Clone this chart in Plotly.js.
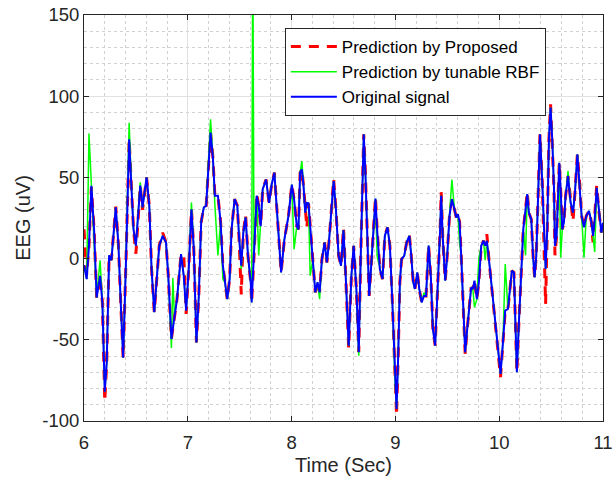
<!DOCTYPE html>
<html>
<head>
<meta charset="utf-8">
<script src="https://cdn.plot.ly/plotly-3.0.1.min.js"></script>
<style>html,body{margin:0;padding:0;background:#fff;}#chart{width:616px;height:480px;}</style>
</head>
<body>
<div id="chart"></div>
<script>
const timeSec = [6.000,6.026,6.048,6.071,6.097,6.122,6.155,6.177,6.200,6.219,6.242,6.264,6.306,6.332,6.355,6.377,6.403,6.420,6.435,6.458,6.477,6.500,6.522,6.542,6.564,6.580,6.603,6.629,6.651,6.677,6.703,6.725,6.758,6.790,6.812,6.842,6.856,6.871,6.896,6.935,6.961,6.984,7.009,7.035,7.058,7.083,7.106,7.129,7.154,7.177,7.193,7.219,7.241,7.261,7.290,7.316,7.338,7.357,7.380,7.403,7.422,7.451,7.477,7.493,7.515,7.535,7.557,7.580,7.606,7.615,7.626,7.638,7.664,7.683,7.702,7.721,7.754,7.783,7.808,7.834,7.863,7.899,7.931,7.970,8.002,8.024,8.050,8.066,8.082,8.099,8.115,8.131,8.147,8.163,8.179,8.205,8.228,8.250,8.270,8.292,8.318,8.340,8.357,8.379,8.405,8.427,8.453,8.476,8.500,8.521,8.550,8.576,8.598,8.624,8.647,8.666,8.682,8.695,8.711,8.727,8.747,8.769,8.792,8.808,8.824,8.850,8.876,8.898,8.924,8.947,8.972,8.995,9.011,9.027,9.043,9.059,9.085,9.108,9.134,9.150,9.172,9.188,9.211,9.230,9.253,9.275,9.295,9.308,9.320,9.342,9.361,9.383,9.409,9.431,9.441,9.457,9.480,9.499,9.521,9.544,9.569,9.586,9.602,9.618,9.634,9.650,9.672,9.692,9.714,9.730,9.746,9.762,9.785,9.804,9.827,9.849,9.865,9.881,9.901,9.923,9.949,9.971,9.994,10.013,10.036,10.058,10.084,10.106,10.122,10.142,10.158,10.170,10.190,10.213,10.232,10.254,10.270,10.286,10.309,10.328,10.341,10.357,10.373,10.393,10.415,10.431,10.447,10.463,10.479,10.495,10.511,10.528,10.537,10.553,10.569,10.579,10.592,10.608,10.624,10.640,10.663,10.688,10.711,10.730,10.753,10.775,10.794,10.817,10.839,10.865,10.888,10.904,10.920,10.939,10.962,10.984,11.000];

const originalSignal = [-4,-12.6,7.9,44.8,18,-24,-10.6,-27,-82,-64,2,-1,31.5,8,-29,-61,-5,40,73.5,42.6,18,8,26,45,31.5,38.7,50,32.6,-6.4,-33,-10.6,8,14,10,-10.6,-49.5,-43,-35,-25,2.8,-10.6,-32,-6.4,30.4,5.8,-51.6,-23,22.6,31.5,32.6,52.9,77.6,63,38.7,38.7,22.6,-4.4,-14.6,-25,-12.6,18,36.6,32.6,14,-4.4,16,25.3,1.7,-14.6,-27,-14,1.7,38.7,32.6,20,42.6,48.7,34.3,45.6,52.9,26.3,-8.5,12,26.3,45.6,36.4,20,18,52.9,55,44.6,28.3,34.3,34,20,-0.4,-20.8,-14.6,-20.8,-0.4,9.9,-2.4,7.9,26.3,47.8,30.4,1.7,-4.4,17.5,-10.6,-53.6,-10.6,7.9,-18.7,-57.7,1.7,50.9,76.6,53,12,-23,-2.3,22.6,36.9,18,-6.4,-12.6,14,19.2,7.9,-29,-70,-92.6,-59.8,-14.6,-0.4,1.7,9.9,14,3.8,-14.6,-18.7,-8.5,-18.7,-27,-23,-23,-6.4,8,-12,-43.3,-53.6,-18.7,18,38.7,12,-13.6,1.7,26.3,36.6,30.4,25.3,27.3,22.6,1.7,-29,-57.7,-43.3,-27,-17.7,-18.7,-13.6,-25,-14.6,7.9,11,7.9,11,-0.4,-14.6,-29,-45.4,-57.7,-71,-51.6,-32,-31,-14.6,-7.5,-8.5,-39,-70,-39,-4.4,18,30.4,39.7,28.3,24.2,-0.4,-11.6,1.7,38.7,76.6,46.7,16,-6.4,18,73.5,93,73.5,42.6,7.9,14,42.6,59,42.6,18,22.6,38.7,50.9,34.5,28.3,40.7,64.2,46.7,26.3,19.2,26.3,29.4,22.6,14,24.2,43.6,28.3,16,22];

const proposedPrediction = [18,-10,7.9,44,18,-24,-10.6,-27,-88,-64,2,-1,32,8,-29,-61,-5,40,73.5,42.6,18,3,26,45,30,38.7,50,32.6,-6.4,-33,-10.6,8,16,10,-10.6,-49.5,-43,-35,-25,2.8,2,-34,-6.4,30.4,5.8,-51.6,-23,22.6,31.5,32.6,52.9,77.6,63,38.7,38.7,22.6,-4.4,-14.6,-25,-12.6,18,36.6,32.6,14,-22,16,27,1.7,-14.6,-27,-14,1.7,40,32.6,20,42.6,48.7,34.3,45.6,52.9,26.3,-8.5,12,26.3,45.6,36.4,20,18,52.9,55,44.6,28.3,19,34,20,-0.4,-20.8,-14.6,-20.8,-0.4,9.9,-2.4,7.9,26.3,49,30.4,1.7,-4.4,19,-10.6,-55,-10.6,7.9,-18.7,-57.7,1.7,50.9,76.6,53,12,-23,-2.3,22.6,38,18,-6.4,-12.6,14,19.2,7.9,-29,-70,-96.6,-59.8,-14.6,-0.4,1.7,9.9,15,3.8,-14.6,-18.7,-8.5,-18.7,-27,-23,-23,-6.4,8,-12,-43.3,-53.6,-18.7,18,41,12,-13.6,1.7,26.3,36.6,30.4,25.3,27.3,22.6,1.7,-29,-58.6,-43.3,-27,-17.7,-18.7,-13.6,-25,-14.6,7.9,11,7.9,15,-0.4,-14.6,-29,-45.4,-57.7,-73,-51.6,-32,-31,-14.6,-7.5,-8.5,-39,-70,-39,-4.4,18,30.4,41,28.3,24.2,-0.4,-11.6,1.7,38.7,76.6,46.7,16,-28,18,73.5,95,73.5,42.6,2,14,42.6,59,42.6,18,22.6,38.7,50.9,34.5,23,40.7,64.2,46.7,26.3,19.2,26.3,29.4,22.6,10,24.2,45,28.3,16,22];

const rbfPrediction = [-4,-12.6,77,45,18,-24,-1,-27,-82,-64,2,-1,31.5,8,-29,-61,-5,40,83.7,42.6,18,8,26,47,31.5,38.7,50,32.6,-6.4,-33,-10.6,8,14,10,-10.6,-55,-12,-35,-25,2.8,-10.6,-32,-6.4,34.6,5.8,-51.6,-23,22.6,31.5,32.6,52.9,85.8,63,33,2,22.6,-12.6,-14.6,-25,-12.6,18,36.6,32.6,14,-6.4,16,25.3,1.7,-14.6,-27,200,1.7,38.7,2,20,42.6,48.7,34.3,45.6,52.9,26.3,-8.5,12,26.3,45.6,5.8,20,18,52.9,60,44.6,28.3,34.3,34,-10.5,-0.4,-20.8,-14.6,-25,-0.4,9.9,-2.4,7.9,26.3,47.8,30.4,1.7,-4.4,17.5,-10.6,-53.6,-10.6,7.9,-18.7,-59.8,1.7,50.9,76.6,53,12,-23,-2.3,22.6,36.9,1.7,-6.4,-12.6,14,19.2,7.9,-29,-74,-92.6,-59.8,-14.6,-0.4,1.7,9.9,14,3.8,-14.6,-18.7,-8.5,-18.7,-27,-21,-23,-6.4,8,-12,-43.3,-53.6,-18.7,18,38.7,12,-13.6,1.7,26.3,48.7,30.4,25.3,27.3,10,1.7,-29,-57.7,-43.3,-27,-17.7,-18.7,-30,-25,0,7.9,11,-1,11,-0.4,-14.6,-29,-45.4,-57.7,-71,-51.6,-3.4,-31,-14.6,-7.5,-8.5,-39,-70,-39,-4.4,18,2,39.7,28.3,24.2,-0.4,-11.6,1.7,38.7,76.6,46.7,16,-6.4,18,73.5,93,73.5,42.6,7.9,14,42.6,59,0.6,18,22.6,38.7,53.9,34.5,28.3,40.7,64.2,46.7,26.3,0.6,26.3,29.4,22.6,14,4,43.6,28.3,16,22];

const seriesNames = ['Prediction by Proposed', 'Prediction by tunable RBF', 'Original signal'];
const xTickVals = [6, 7, 8, 9, 10, 11];
const yTickVals = [-100, -50, 0, 50, 100, 150];

const FONT = 'Liberation Sans, Arial, Helvetica, sans-serif';
const AX = '#262626';

const traces = [
  {x: timeSec, y: proposedPrediction, name: seriesNames[0], type: 'scatter', mode: 'lines',
   line: {color: '#ff0000', width: 3, dash: '10px,8px'}},
  {x: timeSec, y: rbfPrediction, name: seriesNames[1], type: 'scatter', mode: 'lines',
   line: {color: '#00ff00', width: 1.5}},
  {x: timeSec, y: originalSignal, name: seriesNames[2], type: 'scatter', mode: 'lines',
   line: {color: '#0000ff', width: 2}}
];

const axisCommon = {
  showline: true, linecolor: AX, linewidth: 1, mirror: 'ticks',
  ticks: 'inside', ticklen: 5, tickcolor: AX, tickwidth: 1,
  showgrid: true, gridcolor: '#e1e1e1', gridwidth: 1,
  zeroline: false,
  tickfont: {family: FONT, size: 18.5, color: AX},
};

const layout = {
  width: 616, height: 480,
  margin: {l: 84, r: 13, t: 15, b: 59},
  paper_bgcolor: '#ffffff', plot_bgcolor: '#ffffff',
  showlegend: true,
  legend: {
    x: 0.387, y: 0.968, xanchor: 'left', yanchor: 'top',
    bgcolor: '#ffffff', bordercolor: AX, borderwidth: 1,
    itemwidth: 46,
    font: {family: FONT, size: 17, color: '#000000'},
    tracegroupgap: 0
  },
  xaxis: Object.assign({}, axisCommon, {
    range: [6, 11], tickvals: xTickVals, ticktext: xTickVals.map(String),
    ticklabelstandoff: 5,
    minor: {dtick: 0.2, showgrid: true, gridcolor: '#d0d0d0', griddash: 'dot', gridwidth: 1, ticks: ''},
    title: {text: 'Time (Sec)', font: {family: FONT, size: 20, color: AX}, standoff: 5}
  }),
  yaxis: Object.assign({}, axisCommon, {
    range: [-100, 150], tickvals: yTickVals, ticktext: yTickVals.map(String),
    minor: {dtick: 10, showgrid: true, gridcolor: '#d0d0d0', griddash: 'dot', gridwidth: 1, ticks: ''},
    title: {text: 'EEG (uV)', font: {family: FONT, size: 20, color: AX}, standoff: 6}
  })
};

Plotly.newPlot('chart', traces, layout, {displayModeBar: false, staticPlot: true});
</script>
</body>
</html>
